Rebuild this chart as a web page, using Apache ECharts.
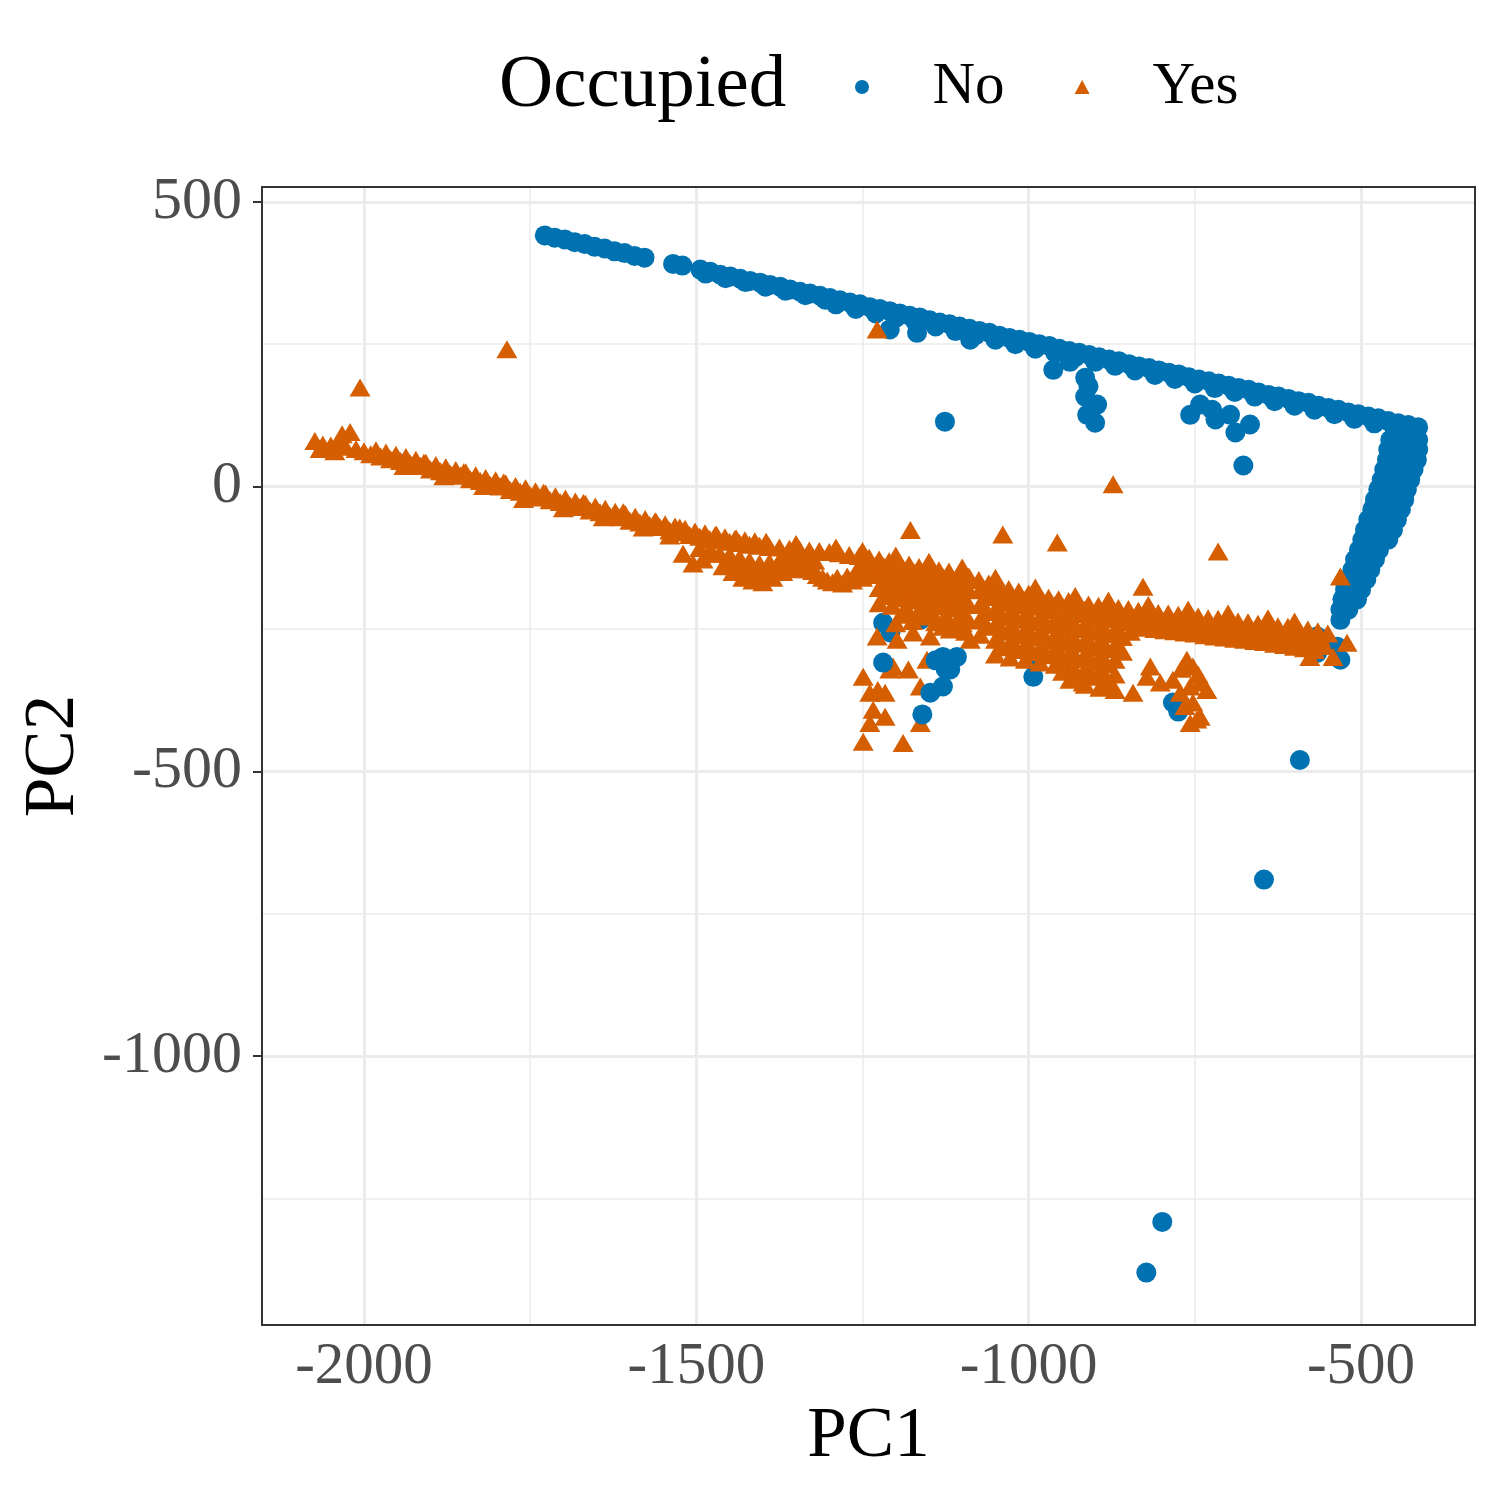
<!DOCTYPE html>
<html>
<head>
<meta charset="utf-8">
<script src="https://cdn.jsdelivr.net/npm/echarts@6/dist/echarts.min.js"></script>
<style>html,body{margin:0;padding:0;background:#fff}#main{width:1500px;height:1500px}</style>
</head>
<body>
<div id="main"></div>
<script>
// PC scores, Occupied = No (blue circles)
var noLine = [
  [-1728,441],[-1713,437],[-1698,434],[-1683,429],[-1668,426],[-1653,421],[-1638,418],[-1623,413],[-1608,410],[-1593,405],[-1578,402],
  [-1535,391],[-1521,388],
  [-1494,381],[-1479,377],[-1464,372],[-1449,369],[-1434,365],[-1419,361],[-1404,358],[-1389,354],[-1374,351],[-1359,346],[-1344,342],
  [-1329,339],[-1314,335],[-1299,331],[-1284,327],[-1269,323],[-1254,320],[-1239,315],[-1224,312],[-1209,308],[-1194,304],[-1179,300],
  [-1164,297],[-1149,292],[-1134,288],[-1119,285],[-1104,281],[-1089,277],[-1074,273],[-1059,270],[-1044,265],[-1029,261],[-1014,258],
  [-999,254],[-984,250],[-969,247],[-954,242],[-939,238],[-924,235],[-909,231],[-894,227],[-879,223],[-864,220],[-849,215],[-834,211],
  [-819,208],[-804,204],[-789,200],[-774,197],[-759,192],[-744,188],[-729,185],[-714,181],[-699,177],[-684,173],[-669,170],[-654,165],
  [-639,161],[-624,158],[-609,154],[-594,150],[-579,147],[-564,142],[-549,138],[-534,135],[-519,130],[-504,127],[-489,123],[-474,120],
  [-459,115],[-444,111],[-429,108],[-414,104],
  [-1486,374],[-1456,366],[-1426,359],[-1396,351],[-1366,344],[-1336,336],[-1306,328],
  [-1290,320],[-1260,312],[-1230,304],[-1200,296],[-1170,289],[-1140,281],[-1110,273],[-1080,266],[-1050,258],[-1020,250],[-990,242],
  [-960,235],[-930,227],[-900,219],[-870,212],[-840,204],[-810,196],[-780,189],[-750,181],[-720,173],[-690,166],[-660,158],[-630,150],
  [-600,142],[-570,135],[-540,127],[-510,119],[-480,111],[-450,104],[-420,96]
];
var noBlob = [
  [-449,100],[-434,100],[-419,100],
  [-456,82],[-441,82],[-426,82],[-414,82],
  [-459,65],[-444,65],[-429,65],[-414,65],
  [-461,47],[-446,47],[-431,47],[-416,47],
  [-465,30],[-450,30],[-435,30],[-421,30],
  [-469,12],[-454,12],[-439,12],[-426,12],
  [-474,-5],[-459,-5],[-444,-5],[-431,-5],
  [-479,-23],[-464,-23],[-449,-23],[-435,-23],
  [-483,-40],[-468,-40],[-453,-40],[-440,-40],
  [-489,-58],[-474,-58],[-459,-58],[-446,-58],
  [-494,-76],[-479,-76],[-464,-76],[-452,-76],
  [-498,-93],[-483,-93],[-468,-93],[-459,-93],
  [-503,-111],[-488,-111],[-473,-111],
  [-509,-128],[-494,-128],[-479,-128],
  [-513,-146],[-498,-146],[-486,-146],
  [-519,-163],[-504,-163],[-492,-163],
  [-524,-181],[-510,-181],[-500,-181],
  [-528,-198],[-516,-198],[-506,-198],
  [-531,-216],[-519,-216],
  [-531,-234]
];
var noBranches = [
  [-1209,276],[-1168,270],[-1088,258],
  [-963,205],[-938,219],[-915,191],[-910,176],[-915,158],[-897,144],[-912,126],[-900,112],
  [-742,144],[-757,126],[-724,135],[-719,118],[-697,126],[-667,109],[-689,95],[-677,37],
  [-1126,114],[-592,-480],[-646,-690],[-799,-1291],[-823,-1380],
  [-1219,-239],[-1208,-256],[-1163,-234],[-993,-334],[-990,-309],[-783,-379],[-775,-395],
  [-566,-263],[-566,-292],[-531,-304],[-536,-281]
];
var noLow = [
  [-1219,-309],[-1129,-299],[-1108,-299],[-1118,-321],[-1140,-305],[-1115,-305],[-1125,-320],
  [-1129,-351],[-1148,-362],[-1160,-400]
];

// Occupied = Yes (orange triangles)
var yesBand = [
  [-2074,80],[-2062,74],[-2050,72],[-2040,76],[-2033,92],[-2021,96],[-2028,70],[-2012,66],[-2000,62],[-2066,66],[-2044,62],
  [-1990,57],[-1975,53],[-1960,48],[-1945,45],[-1930,40],[-1915,36],[-1900,30],[-1885,27],[-1870,22],[-1855,19],[-1840,13],
  [-1825,10],[-1810,3],[-1795,0],[-1780,-6],[-1765,-9],[-1750,-15],[-1735,-19],[-1720,-24],[-1705,-27],[-1690,-33],[-1675,-36],
  [-1660,-42],[-1645,-45],[-1630,-51],[-1615,-54],[-1600,-60],[-1585,-63],[-1570,-68],[-1555,-71],[-1540,-77],[-1525,-80],
  [-1510,-85],[-1495,-88],[-1480,-92],[-1465,-94],[-1450,-97],[-1435,-99],[-1420,-102],[-1405,-104],[-1390,-106],[-1375,-107],
  [-1360,-109],[-1345,-110],[-1330,-112],[-1315,-113],[-1300,-115],[-1285,-117],[-1270,-120],[-1255,-122],[-1240,-125],
  [-1225,-128],[-1210,-131],[-1195,-134],[-1180,-137],[-1165,-141],[-1150,-143],[-1135,-147],[-1120,-149],[-1105,-153],
  [-1090,-158],[-1075,-164],[-1060,-170],[-1045,-175],[-1030,-180],[-1015,-184],[-1000,-188],[-985,-192],[-970,-195],
  [-955,-198],[-940,-201],[-925,-204],[-910,-207],[-895,-209],[-880,-211],[-865,-213],[-850,-215],[-835,-218],[-820,-219],
  [-805,-222],[-790,-223],[-775,-225],[-760,-227],[-745,-228],[-730,-231],[-715,-232],[-700,-234],[-685,-237],[-670,-238],
  [-655,-241],[-640,-242],[-625,-245],[-610,-246],[-595,-249],[-580,-251],[-565,-254],[-550,-258],
  [-1982,64],[-1967,60],[-1952,56],[-1937,52],[-1922,47],[-1907,42],[-1892,38],[-1877,34],[-1862,29],[-1847,25],[-1832,20],
  [-1817,15],[-1802,11],[-1787,6],[-1772,1],[-1757,-3],[-1742,-8],[-1727,-12],[-1712,-17],[-1697,-21],[-1682,-26],[-1667,-30],
  [-1652,-35],[-1637,-39],[-1622,-44],[-1607,-48],[-1592,-53],[-1577,-57],[-1562,-61],[-1547,-66],[-1532,-70],[-1517,-74],
  [-1502,-79],[-1487,-82],[-1472,-86],[-1457,-89],[-1442,-92],[-1427,-94],[-1412,-96],
  [-1940,36],[-1880,18],[-1820,1],[-1760,-22],[-1700,-38],[-1640,-54],[-1580,-72],[-1540,-86],[-1910,42],[-1850,25],
  [-1790,7],[-1730,-11],[-1670,-29],[-1610,-45],[-1560,-63],[-1525,-72],[-1470,-84],[-1440,-91],[-1395,-97],[-1350,-101],
  [-1290,-107],[-1250,-113],[-1200,-121],[-1150,-132],[-1100,-142],[-1050,-160],[-990,-177],[-930,-192],[-880,-200],
  [-820,-208],[-760,-216],[-700,-223],[-640,-231],[-600,-237],
  [-1495,-108],[-1480,-112],[-1465,-118],[-1450,-120],[-1435,-125],[-1420,-130],[-1405,-135],[-1390,-133],[-1375,-130],
  [-1360,-128],[-1345,-130],[-1367,-125],[-1352,-122],[-1337,-126],[-1322,-130],[-1255,-140],[-1242,-142],[-1230,-138],
  [-1520,-118],[-1505,-135],[-1490,-128],[-1475,-118],
  [-1460,-140],[-1445,-150],[-1430,-160],[-1415,-165],[-1400,-168],[-1385,-160],[-1370,-150],[-1355,-145],[-1340,-140],
  [-1325,-148],[-1310,-160],[-1295,-168],[-1280,-170],[-1265,-165],[-1250,-160],[-1235,-155],
  [-1453,-135],[-1438,-142],[-1423,-147],[-1408,-152],[-1393,-150],[-1378,-145],[-1363,-138],[-1348,-140],[-1333,-145],
  [-1318,-155],[-1303,-165],[-1288,-160],[-1273,-158],[-1258,-152],[-1243,-148],
  [-833,-232],[-818,-234],[-803,-236],[-788,-238],[-773,-240],[-758,-242],[-743,-244],[-728,-246],[-713,-248],[-698,-250],
  [-683,-252],[-668,-254],[-653,-256],[-638,-258],[-623,-261],[-608,-263],[-593,-266],[-578,-268],[-563,-272],
  [-840,-246],[-825,-248],[-810,-250],[-795,-252],[-780,-254],[-765,-256],[-750,-258],[-735,-261],[-720,-263],[-705,-265],
  [-690,-267],[-675,-269],[-660,-271],[-645,-273],[-630,-276],[-615,-278],[-600,-281],[-585,-284],[-570,-287],
  [-577,-299],[-562,-263],[-542,-299],[-521,-274],[-555,-280]
];
var yesCluster = [
  [-1225,-152],[-1210,-156],[-1195,-160],[-1180,-163],[-1165,-166],[-1150,-170],[-1135,-172],[-1120,-175],[-1105,-178],[-1090,-182],
  [-1225,-178],[-1210,-182],[-1195,-185],[-1180,-188],[-1165,-192],[-1150,-195],[-1135,-198],[-1120,-201],[-1105,-204],[-1090,-208],
  [-1225,-205],[-1205,-209],[-1185,-212],[-1165,-218],[-1145,-222],[-1125,-226],[-1105,-230],[-1090,-235],
  [-1200,-240],[-1175,-236],[-1140,-238],[-1110,-245],[-1095,-255],
  [-1218,-140],[-1203,-143],[-1188,-147],[-1173,-150],[-1158,-153],[-1143,-156],[-1128,-160],[-1113,-163],[-1098,-168],
  [-1218,-165],[-1203,-169],[-1188,-172],[-1173,-176],[-1158,-179],[-1143,-182],[-1128,-185],[-1113,-189],[-1098,-194],
  [-1215,-192],[-1195,-196],[-1175,-200],[-1155,-205],[-1135,-210],[-1115,-214],[-1098,-220],
  [-1190,-225],[-1160,-228],[-1125,-240],[-1100,-240],
  [-1073,-181],[-1073,-207],[-1073,-233],[-1073,-260],
  [-1050,-190],[-1050,-216],[-1050,-242],[-1050,-269],[-1050,-295],
  [-1028,-195],[-1028,-221],[-1028,-248],[-1028,-274],[-1028,-300],
  [-1005,-198],[-1005,-225],[-1005,-251],[-1005,-278],[-1005,-304],
  [-983,-204],[-983,-230],[-983,-256],[-983,-283],[-983,-309],
  [-960,-207],[-960,-234],[-960,-260],[-960,-286],[-960,-313],
  [-938,-211],[-938,-237],[-938,-263],[-938,-290],[-938,-316],[-938,-339],
  [-915,-216],[-915,-242],[-915,-269],[-915,-295],[-915,-321],[-915,-348],
  [-893,-220],[-893,-246],[-893,-272],[-893,-299],[-893,-325],[-893,-353],
  [-870,-225],[-870,-251],[-870,-278],[-870,-304],[-870,-330],[-870,-357],
  [-847,-228],[-847,-255],
  [-1062,-194],[-1062,-220],[-1062,-246],
  [-1039,-203],[-1039,-229],[-1039,-255],[-1039,-282],
  [-1017,-208],[-1017,-234],[-1017,-261],[-1017,-287],
  [-994,-211],[-994,-238],[-994,-264],[-994,-291],
  [-972,-217],[-972,-243],[-972,-270],[-972,-296],
  [-949,-222],[-949,-247],[-949,-273],[-949,-299],[-949,-325],
  [-927,-224],[-927,-250],[-927,-276],[-927,-303],[-927,-329],
  [-904,-229],[-904,-255],[-904,-282],[-904,-308],[-904,-334],
  [-882,-233],[-882,-259],[-882,-285],[-882,-312],[-882,-338],
  [-859,-238],[-859,-264],[-859,-290],
  [-1249,-334],[-1239,-362],[-1227,-357],[-1234,-392],[-1239,-415],[-1249,-448],[-1216,-362],[-1216,-404],[-1189,-450],
  [-1181,-321],[-1163,-351],[-1228,-263],[-1209,-321],[-1198,-269],[-1174,-256],[-1148,-263],[-1129,-246],[-1118,-251],
  [-1088,-269],[-1159,-211],[-1183,-216],[-1163,-415],[-1153,-304],[-1204,-316],
  [-918,-344],[-882,-351],[-843,-362],[-822,-334],[-802,-344],[-762,-304],[-753,-316],[-757,-351],[-742,-344],[-732,-357],
  [-753,-379],[-742,-404],[-757,-415],[-747,-409],[-772,-362],[-783,-339],[-817,-316],[-770,-320],[-745,-330],[-765,-385]
];
var yesOutliers = [
  [-2006,174],[-1785,241],[-1228,276],[-873,4],[-1178,-76],[-1039,-84],[-957,-98],[-715,-114],[-531,-158],[-828,-176]
];

// axis breaks and grid lines
var xMajor = [-2000, -1500, -1000, -500];
var xMinor = [-1750, -1250, -750];
var yMajor = [500, 0, -500, -1000];
var yMinor = [250, -250, -750, -1250];

var font = 'Liberation Serif';
var gridLines = [];
xMajor.forEach(function (v) { gridLines.push({xAxis: v, lineStyle: {width: 3}}); });
xMinor.forEach(function (v) { gridLines.push({xAxis: v, lineStyle: {width: 1.5}}); });
yMajor.forEach(function (v) { gridLines.push({yAxis: v, lineStyle: {width: 3}}); });
yMinor.forEach(function (v) { gridLines.push({yAxis: v, lineStyle: {width: 1.5}}); });

var myChart = echarts.init(document.getElementById('main'));

var option = {
  animation: false,
  backgroundColor: '#ffffff',
  graphic: [{
    type: 'text', x: 499, y: 86,
    style: {text: 'Occupied', font: '75px "Liberation Serif"', fill: '#000', verticalAlign: 'middle', align: 'left'}
  }],
  legend: {
    data: ['No', 'Yes'],
    left: 850, top: 52,
    itemWidth: 15, itemHeight: 14, itemGap: 70,
    selectedMode: false,
    textStyle: {fontFamily: font, fontSize: 59, color: '#000', lineHeight: 60, padding: [0, 0, 0, 58]}
  },
  grid: {left: 262, top: 187, right: 25, bottom: 175, show: true, z: 3,
         borderColor: '#333333', borderWidth: 2, backgroundColor: 'transparent'},
  xAxis: {
    type: 'value', min: -2153.5, max: -328.5,
    name: 'PC1', nameLocation: 'middle', nameGap: 74,
    nameTextStyle: {fontFamily: font, fontSize: 71, color: '#000'},
    axisLine: {show: false},
    axisTick: {show: true, length: 9, customValues: xMajor, lineStyle: {color: '#333333', width: 2}},
    axisLabel: {customValues: xMajor, fontFamily: font, fontSize: 59, color: '#4D4D4D', margin: 13,
                formatter: function (v) { return String(v); }},
    splitLine: {show: false}
  },
  yAxis: {
    type: 'value', min: -1472, max: 526,
    name: 'PC2', nameLocation: 'middle', nameGap: 172,
    nameTextStyle: {fontFamily: font, fontSize: 71, color: '#000'},
    axisLine: {show: false},
    axisTick: {show: true, length: 9, customValues: yMajor, lineStyle: {color: '#333333', width: 2}},
    axisLabel: {customValues: yMajor, fontFamily: font, fontSize: 60, color: '#4D4D4D', margin: 20,
                formatter: function (v) { return String(v); }},
    splitLine: {show: false}
  },
  series: [
    {
      name: 'No', type: 'scatter', symbol: 'circle', symbolSize: 20, z: 2,
      itemStyle: {color: '#0072B2', opacity: 1},
      emphasis: {disabled: true},
      data: noLine.concat(noBlob, noBranches),
      markLine: {
        silent: true, z: 1, symbol: ['none', 'none'], label: {show: false},
        emphasis: {disabled: true},
        lineStyle: {color: '#EBEBEB', type: 'solid'},
        data: gridLines
      }
    },
    {
      name: 'Yes', type: 'scatter', symbol: 'triangle', symbolSize: [21, 18], z: 2,
      itemStyle: {color: '#D55E00', opacity: 1},
      emphasis: {disabled: true},
      data: yesBand.concat(yesCluster, yesOutliers)
    },
    {
      name: 'No', type: 'scatter', symbol: 'circle', symbolSize: 20, z: 2,
      itemStyle: {color: '#0072B2', opacity: 1},
      emphasis: {disabled: true},
      data: noLow
    }
  ]
};
myChart.setOption(option);
</script>
</body>
</html>
